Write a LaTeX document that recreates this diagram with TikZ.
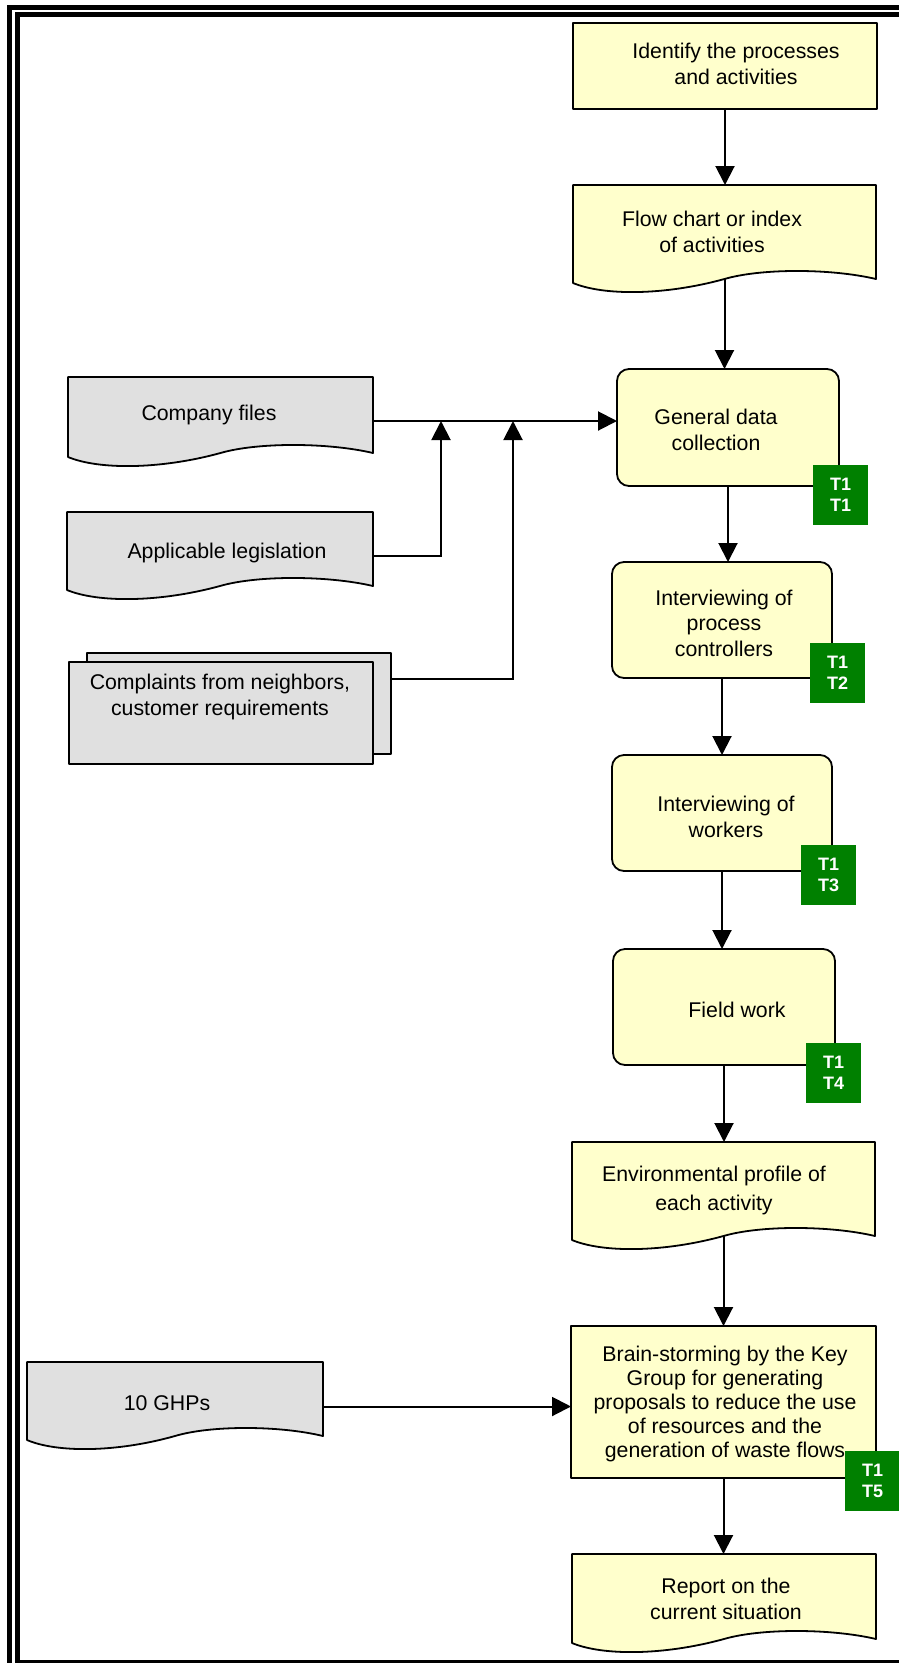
\documentclass[tikz,border=0pt]{standalone}
\usepackage{fontspec}
\setmainfont{Liberation Sans}
\usetikzlibrary{arrows.meta}

\definecolor{boxyellow}{RGB}{255,255,204}
\definecolor{boxgray}{RGB}{224,224,224}
\definecolor{taggreen}{RGB}{0,128,0}

\tikzset{
  outline/.style={draw=black, line width=1.8pt, line join=round},
  ybox/.style={outline, fill=boxyellow, inner sep=0pt, outer sep=0pt, anchor=north west},
  gbox/.style={outline, fill=boxgray, inner sep=0pt, outer sep=0pt, anchor=north west},
  rbox/.style={ybox, rounded corners=12pt},
  txt/.style={align=center, inner sep=0pt, font=\fontsize{21.3}{25.5}\selectfont},
  tag/.style={fill=taggreen, text=white, align=center, inner sep=0pt, anchor=north west,
    font=\bfseries\fontsize{18}{21}\selectfont, minimum width=55pt, minimum height=60pt},
  conn/.style={line width=2pt},
  arr/.style={conn, -{Triangle[length=19pt,width=19pt]}},
  frame/.style={line width=5pt},
}

% document symbol: straight top and sides, wavy bottom edge;
% #1 name, #2 left, #3 top, #4 right, #5 bottom of the left side, #6 fill
\newcommand\docshape[6]{%
  \path[outline, fill=#6] (#2,#3) -- (#4,#3) -- (#4,{#5-4})
    .. controls ({#2+0.85*(#4-#2)},{#5-14.7}) and ({#2+0.62*(#4-#2)},{#5-14.7}) .. ({(#2+#4)/2},{#5-4})
    .. controls ({#2+0.3*(#4-#2)},{#5+12.7}) and ({#2+0.1*(#4-#2)},{#5+12.7}) .. (#2,#5) -- cycle;
  \node[inner sep=0pt, outer sep=0pt, anchor=north west,
        minimum width={(#4-#2)*1pt}, minimum height={(#5-4-#3)*1pt}] (#1) at (#2,#3) {};
}

\begin{document}
\begin{tikzpicture}[x=1pt, y=-1pt]
\useasboundingbox (0,0) rectangle (899,1663);
\clip (0,0) rectangle (899,1663);
\fill[white] (0,0) rectangle (899,1663);

% double page frame
\draw[frame] (9.5,1700) -- (9.5,7.5) -- (950,7.5);
\draw[frame] (950,14.8) -- (17.5,14.8) -- (17.5,1662) -- (950,1662);

% main column
\node[ybox, minimum width=304pt, minimum height=86pt] (ident) at (573,23) {};
\node[txt] (ident-t) at (736,64) {Identify the processes\\and activities};

\docshape{flow}{573}{185}{876}{283}{boxyellow}
\node[txt] (flow-t) at (712,232) {Flow chart or index\\of activities};

\node[rbox, minimum width=222pt, minimum height=117pt] (gen) at (617,369) {};
\node[txt] (gen-t) at (716,430) {General data\\collection};

\node[rbox, minimum width=220pt, minimum height=116pt] (ipc) at (612,562) {};
\node[txt] (ipc-t) at (724,623) {Interviewing of\\process\\controllers};

\node[rbox, minimum width=220pt, minimum height=116pt] (iw) at (612,755) {};
\node[txt] (iw-t) at (726,817) {Interviewing of\\workers};

\node[rbox, minimum width=222pt, minimum height=116pt] (fw) at (613,949) {};
\node[txt] (fw-t) at (737,1010) {Field work};

\docshape{env}{572}{1142}{875}{1240}{boxyellow}
\node[txt, font=\fontsize{21.3}{29}\selectfont] (env-t) at (714,1190) {Environmental profile of\\each activity};

\node[ybox, minimum width=305pt, minimum height=152pt] (brain) at (571,1326) {};
\node[txt, font=\fontsize{21.3}{24}\selectfont] (brain-t) at (725,1404)
  {Brain-storming by the Key\\Group for generating\\proposals to reduce the use\\of resources and the\\generation of waste flows};

\docshape{report}{572}{1554}{876}{1643}{boxyellow}
\node[txt] (report-t) at (726,1599) {Report on the\\current situation};

% task tags
\node[tag] (tag1) at (813,465) {T1\\T1};
\node[tag] (tag2) at (810,643) {T1\\T2};
\node[tag] (tag3) at (801,845) {T1\\T3};
\node[tag] (tag4) at (806,1043) {T1\\T4};
\node[tag] (tag5) at (845,1451) {T1\\T5};

% inputs on the left
\docshape{cf}{68}{377}{373}{457}{boxgray}
\node[txt] (cf-t) at (209,415) {Company files};

\docshape{al}{67}{512}{373}{590}{boxgray}
\node[txt] (al-t) at (227,553) {Applicable legislation};

\node[gbox, minimum width=304pt, minimum height=101pt] (cpb) at (87,653) {};
\node[gbox, minimum width=304pt, minimum height=102pt] (cpf) at (69,662) {};
\node[txt, font=\fontsize{21.3}{26.5}\selectfont] (cp-t) at (220,697) {Complaints from neighbors,\\customer requirements};

\docshape{ghp}{27}{1362}{323}{1440}{boxgray}
\node[txt] (ghp-t) at (167,1403) {10 GHPs};

% connectors of the main column
\draw[arr] (ident.south) -- (ident.south |- flow.north);
\draw[arr] (flow.south) -- (flow.south |- gen.north);
\draw[arr] (gen.south) -- (gen.south |- ipc.north);
\draw[arr] (ipc.south) -- (ipc.south |- iw.north);
\draw[arr] (iw.south) -- (iw.south |- fw.north);
\draw[arr] (fw.south) -- (fw.south |- env.north);
\draw[arr] (env.south) -- (env.south |- brain.north);
\draw[arr] (brain.south) -- (brain.south |- report.north);

% connectors from the inputs
\coordinate (gin) at ([yshift=6.5pt]gen.west);
\coordinate (j1) at (441,421);
\coordinate (j2) at (513,421);
\draw[arr] (cf.east |- gin) -- (gin);
\draw[arr] ([yshift=-7pt]al.east) -| (j1);
\draw[arr] ([yshift=24.5pt]cpb.east) -| (j2);
\coordinate (bin) at ([yshift=-4.5pt]brain.west);
\draw[arr] (ghp.east |- bin) -- (bin);
\end{tikzpicture}
\end{document}
